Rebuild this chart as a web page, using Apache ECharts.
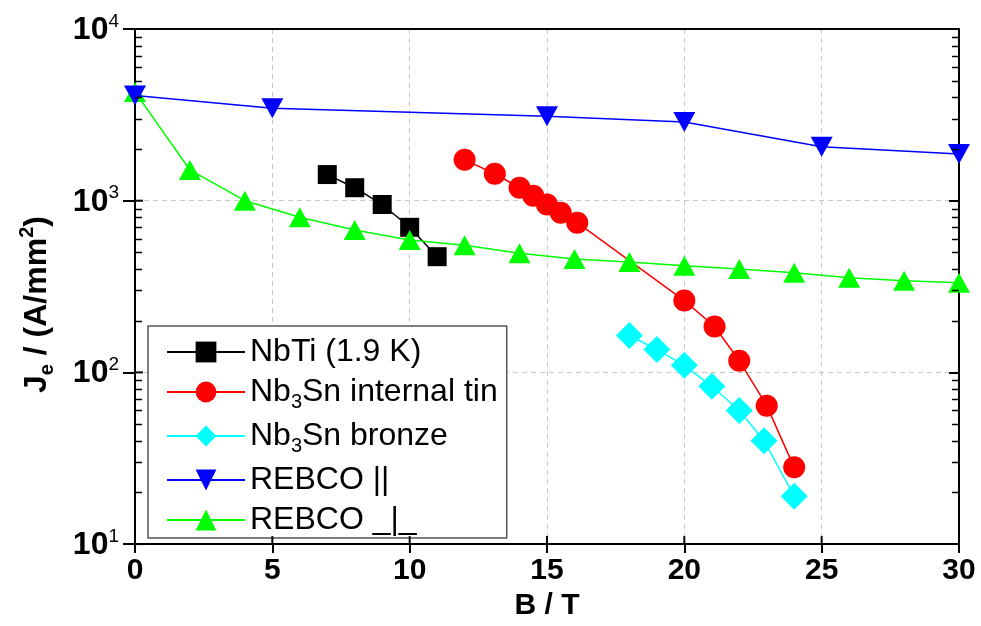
<!DOCTYPE html>
<html lang="en">
<head>
    <meta charset="UTF-8">
    <title>Je vs B</title>
    <style>
        html,body{margin:0;padding:0;background:#fff;}
        #container{width:981px;height:626px;}
    </style>
    <script src="https://cdn.jsdelivr.net/npm/echarts@6/dist/echarts.min.js"></script>
</head>
<body>
<div id="container"></div>
<script type="text/javascript">
    // data
    const seriesNames = ['NbTi (1.9 K)', 'Nb3Sn internal tin', 'Nb3Sn bronze', 'REBCO ||', 'REBCO _|_'];

    const nbtiB = [7, 8, 9, 10, 11];
    const nbtiJ = [1420, 1190, 950, 700, 472];

    const tinB = [12, 13.1, 14, 14.5, 15, 15.5, 16.1, 20, 21.1, 22, 23, 24];
    const tinJ = [1730, 1435, 1190, 1070, 950, 850, 745, 262, 185, 117, 64, 28];

    const bronzeB = [18, 19, 20, 21, 22, 22.9, 24];
    const bronzeJ = [164, 136, 110, 83, 60, 40, 19];

    const rebcoParB = [0, 5, 15, 20, 25, 30];
    const rebcoParJ = [4100, 3450, 3100, 2870, 2060, 1870];

    const rebcoPerpB = [0, 2, 4, 6, 8, 10, 12, 14, 16, 18, 20, 22, 24, 26, 28, 30];
    const rebcoPerpJ = [4300, 1510, 1000, 800, 675, 590, 550, 495, 458, 440, 418, 400, 380, 356, 342, 333];

    const xTicks = [0, 5, 10, 15, 20, 25, 30];
    const yDecades = [10, 100, 1000, 10000];

    const FONT = "'Liberation Sans', Arial, sans-serif";

    function zip(xs, ys) {
        return xs.map((x, i) => [x, ys[i]]);
    }

    var myChart = echarts.init(document.getElementById('container'));

    function mkSeries(name, xs, ys, color, symbol, size, rotate, z) {
        return {
            name: name,
            type: 'line',
            data: zip(xs, ys),
            symbol: symbol,
            symbolSize: size,
            symbolRotate: rotate,
            z: z,
            lineStyle: {color: color, width: 1.5},
            itemStyle: {color: color},
            emphasis: {disabled: true}
        };
    }

    let series = [
        mkSeries(seriesNames[0], nbtiB, nbtiJ, '#000000', 'rect', 19, 0, 2),
        mkSeries(seriesNames[1], tinB, tinJ, '#ff0000', 'circle', 22, 0, 2),
        mkSeries(seriesNames[2], bronzeB, bronzeJ, '#00ffff', 'diamond', 27, 0, 2),
        mkSeries(seriesNames[3], rebcoParB, rebcoParJ, '#0000ff', 'triangle', [22, 20], 180, 4),
        mkSeries(seriesNames[4], rebcoPerpB, rebcoPerpJ, '#00ff00', 'triangle', [22, 20], 0, 3)
    ];

    var option = {
        animation: false,
        backgroundColor: '#ffffff',
        textStyle: {fontFamily: FONT},
        grid: {left: 135, right: 22, top: 29, bottom: 81, containLabel: false},
        legend: {
            orient: 'vertical',
            left: 148,
            top: 326,
            padding: [10, 9, 2, 18],
            itemWidth: 78,
            itemHeight: 26,
            itemGap: 8,
            backgroundColor: '#ffffff',
            borderColor: '#555555',
            borderWidth: 1.5,
            borderRadius: 0,
            data: seriesNames,
            formatter: function (name) {
                if (name.indexOf('Nb3Sn') === 0) {
                    return '{a|Nb}{s|3}{a|' + name.slice(3) + '}';
                }
                return '{a|' + name + '}';
            },
            textStyle: {
                fontFamily: FONT,
                color: '#000',
                rich: {
                    a: {fontSize: 32, lineHeight: 40, fontFamily: FONT, color: '#000'},
                    s: {fontSize: 20, lineHeight: 16, verticalAlign: 'bottom', fontFamily: FONT, color: '#000'}
                }
            }
        },
        xAxis: [{
            type: 'value',
            min: 0,
            max: 30,
            interval: 5,
            name: 'B / T',
            nameLocation: 'middle',
            nameGap: 44,
            nameTextStyle: {fontSize: 30, fontWeight: 'bold', color: '#000', fontFamily: FONT},
            axisLine: {onZero: false, lineStyle: {color: '#000', width: 2}},
            axisTick: {show: true, length: 9, lineStyle: {color: '#000', width: 2}},
            axisLabel: {
                fontSize: 30, fontWeight: 'bold', color: '#000', margin: 12, fontFamily: FONT,
                formatter: function (v) { return xTicks.indexOf(v) >= 0 ? String(v) : ''; }
            },
            splitLine: {show: true, lineStyle: {color: '#c8c8c8', type: [5, 4], width: 1}}
        }, {
            type: 'value',
            position: 'top',
            min: 0,
            max: 30,
            interval: 5,
            axisLine: {onZero: false, lineStyle: {color: '#000', width: 2}},
            axisTick: {show: false},
            axisLabel: {show: false},
            splitLine: {show: false}
        }],
        yAxis: [{
            type: 'log',
            logBase: 10,
            min: 10,
            max: 10000,
            name: '{a|J}{s|e}{a| / (A/mm}{p|2}{a|)}',
            nameLocation: 'middle',
            nameGap: 78,
            nameTextStyle: {
                fontFamily: FONT,
                padding: [0, 36, 0, 0],
                rich: {
                    a: {fontSize: 32, fontWeight: 'bold', lineHeight: 40, color: '#000', fontFamily: FONT},
                    s: {fontSize: 20, fontWeight: 'bold', lineHeight: 16, verticalAlign: 'bottom', color: '#000', fontFamily: FONT},
                    p: {fontSize: 20, fontWeight: 'bold', lineHeight: 20, verticalAlign: 'top', color: '#000', fontFamily: FONT}
                }
            },
            axisLine: {onZero: false, lineStyle: {color: '#000', width: 2}},
            axisTick: {show: true, length: 12, lineStyle: {color: '#000', width: 2}},
            axisLabel: {
                margin: 16,
                formatter: function (v) {
                    return '{b|10}{sup|' + Math.round(Math.log10(v)) + '}';
                },
                rich: {
                    b: {fontSize: 32, fontWeight: 'bold', lineHeight: 34, verticalAlign: 'bottom', color: '#000', fontFamily: FONT},
                    sup: {fontSize: 19, lineHeight: 19, verticalAlign: 'top', color: '#000', fontFamily: FONT}
                }
            },
            splitLine: {show: true, lineStyle: {color: '#c8c8c8', type: [5, 4], width: 1}}
        }, {
            type: 'log',
            logBase: 10,
            min: 10,
            max: 10000,
            position: 'right',
            axisLine: {onZero: false, lineStyle: {color: '#000', width: 2}},
            axisTick: {show: true, inside: true, length: 10, lineStyle: {color: '#000', width: 2}},
            axisLabel: {show: false},
            splitLine: {show: false}
        }],
        series
    };

    myChart.setOption(option);

    // minor log ticks (2..9 in each decade) and inner parts of the major ticks
    const gfx = [];
    const xl = myChart.convertToPixel({xAxisIndex: 0}, 0);
    const xr = myChart.convertToPixel({xAxisIndex: 0}, 30);
    const yb = myChart.convertToPixel({yAxisIndex: 0}, 10);
    function tick(x1, y1, x2, y2, w) {
        gfx.push({type: 'line', silent: true, z: 10, shape: {x1, y1, x2, y2}, style: {stroke: '#000', lineWidth: w}});
    }
    yDecades.slice(0, 3).forEach(d => {
        for (let k = 2; k <= 9; k++) {
            const y = Math.round(myChart.convertToPixel({yAxisIndex: 0}, d * k)) + 0.5;
            tick(xl, y, xl + 7, y, 1.5);
            tick(xr, y, xr - 7, y, 1.5);
        }
    });
    yDecades.forEach(d => {
        const y = myChart.convertToPixel({yAxisIndex: 0}, d);
        tick(xl, y, xl + 8, y, 2);
    });
    xTicks.forEach(v => {
        const x = myChart.convertToPixel({xAxisIndex: 0}, v);
        tick(x, yb, x, yb - 8, 2);
    });
    myChart.setOption({graphic: gfx});
</script>
</body>
</html>
